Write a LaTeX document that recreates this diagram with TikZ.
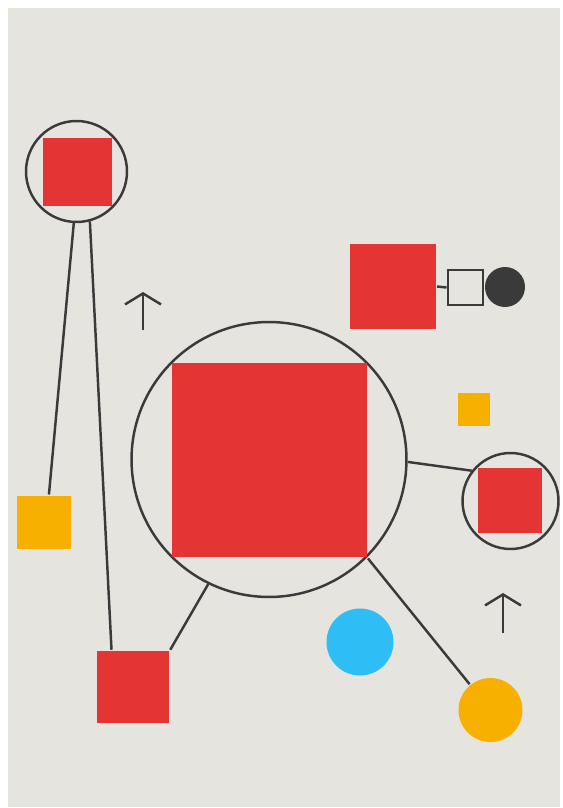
\documentclass[tikz,border=0pt]{standalone}
\usepackage{xcolor}
\usepackage{tikz}
\usetikzlibrary{arrows.meta}

\definecolor{paper}{HTML}{E6E4DF}
\definecolor{ink}{HTML}{3A3A3A}
\definecolor{bauhausred}{HTML}{E53434}
\definecolor{bauhausyellow}{HTML}{F7B000}
\definecolor{bauhausblue}{HTML}{2EBEF5}

\begin{document}
\begin{tikzpicture}[
    x=0.02cm, y=-0.02cm,
    line width=1.4pt,
    ring/.style={circle, draw=ink, line width=1.4pt, inner sep=0pt},
    redbox/.style={rectangle, fill=bauhausred, inner sep=0pt},
    yellowbox/.style={rectangle, fill=bauhausyellow, inner sep=0pt},
    dot/.style={circle, inner sep=0pt},
    link/.style={draw=ink, line width=1.4pt},
    uparrow/.style={draw=ink, line width=1.4pt, -{Straight Barb[length=0.22cm,width=0.72cm]}}
]

% Paper
\useasboundingbox (0,0) rectangle (563,808);
\fill[white] (0,0) rectangle (563,808);
\fill[paper] (8,8) rectangle (560,807);

% Top left ring
\node[ring, minimum size=2.02cm] (tlring) at (76.5,171.5) {};
\node[redbox, minimum size=1.37cm] (tlsq) at (77.5,172) {};

% Big ring
\node[ring, minimum size=5.5cm] (bigring) at (269,459.5) {};
\node[redbox, minimum size=3.89cm] (bigsq) at (269.5,460) {};

% Right ring
\node[ring, minimum size=1.92cm] (rring) at (510.5,501) {};
\node[redbox, minimum size=1.29cm] (rsq) at (510,500.5) {};

% Loose squares
\node[yellowbox, minimum size=1.07cm] (ysq) at (44,522.5) {};
\node[redbox, minimum size=1.44cm] (brsq) at (133,687) {};
\node[redbox, minimum size=1.71cm] (trsq) at (393,286.5) {};
\node[yellowbox, minimum size=0.65cm] (smallysq) at (474,409.5) {};
\node[rectangle, draw=ink, line width=1.4pt, minimum size=0.71cm, inner sep=0pt] (osq) at (465.5,287.5) {};

% Dots
\node[dot, fill=ink, minimum size=0.8cm] (darkdot) at (505,287) {};
\node[dot, fill=bauhausblue, minimum size=1.34cm] (bluedot) at (360,642) {};
\node[dot, fill=bauhausyellow, minimum size=1.28cm] (ydot) at (490.5,710) {};

% Links
\draw[link] (tlring.267) -- (ysq.80);
\draw[link] (tlring.285) -- (brsq.120);
\draw[link] (bigring.244) -- (brsq.north east);
\draw[link] (bigring.-1) -- (rring.142);
\draw[link] (bigsq.south east) -- (ydot.129);
\draw[link] (trsq.east) -- (osq.west);

% Arrows
\coordinate (arrowAfoot) at (143,330);
\coordinate (arrowAtip) at (143,292);
\coordinate (arrowBfoot) at (503,633);
\coordinate (arrowBtip) at (503,593);
\draw[uparrow] (arrowAfoot) -- (arrowAtip);
\draw[uparrow] (arrowBfoot) -- (arrowBtip);

\end{tikzpicture}
\end{document}
